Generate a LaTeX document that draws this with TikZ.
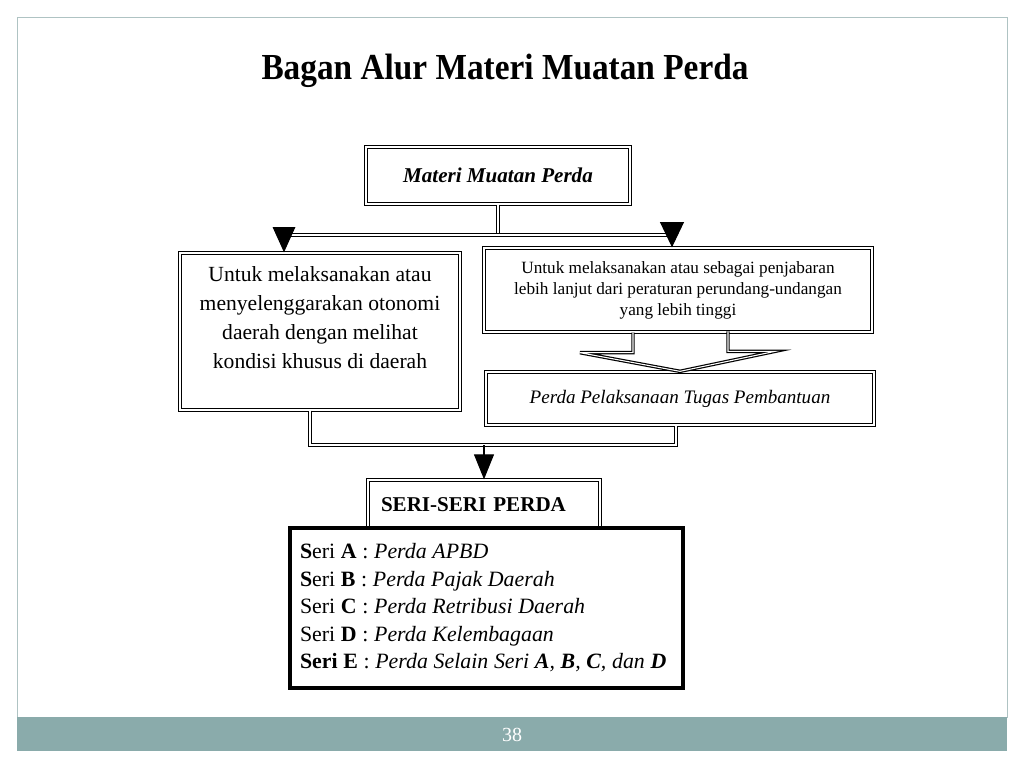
\documentclass[tikz,border=0pt]{standalone}
\usepackage{fontspec}
\usepackage{graphicx}
\setmainfont{Liberation Serif}
\usetikzlibrary{arrows.meta}
\definecolor{barcol}{RGB}{138,171,171}
\definecolor{framecol}{RGB}{175,195,195}
\newcommand\mytightspace{\spaceskip=0.26em plus 0.05em\relax}
\begin{document}
\begin{tikzpicture}[x=0.75pt,y=-0.75pt,
  box/.style={draw=black, double=white, double distance=1pt, line width=1pt, fill=white, inner sep=0pt},
  conn/.style={draw=black, double=white, double distance=0.8pt, line width=0.9pt},
  tip/.style={draw=black, line width=0.8pt},
  listbox/.style={draw=black, line width=2.3pt, fill=white, inner sep=0pt}]
\useasboundingbox (0,0) rectangle (1024,768);
% slide frame and footer
\draw[framecol, line width=0.6pt] (17,17) rectangle (1007,717);
\fill[barcol] (17,717) rectangle (1007,751);
\node[text=white, font=\fontsize{15pt}{18pt}\selectfont] (pg) at (512,735) {38};
% title
\node[font=\fontsize{25pt}{30pt}\selectfont\bfseries] (title) at (505,71) {\scalebox{1}[1.1]{Bagan Alur Materi Muatan Perda}};
% boxes
\node[box, minimum width=198pt, minimum height=42.75pt, font=\fontsize{15.8pt}{18pt}\selectfont\bfseries\itshape] (mat) at (498,175.5) {Materi Muatan Perda};
\node[box, minimum width=210pt, minimum height=117.75pt, align=center, font=\fontsize{16.2pt}{21.75pt}\selectfont] (left) at (320,331.5)
  {Untuk melaksanakan atau\\menyelenggarakan otonomi\\daerah dengan melihat\\kondisi khusus di daerah\\\mbox{}};
\node[box, minimum width=291pt, minimum height=63pt, align=center, font=\fontsize{12.9pt}{15.75pt}\selectfont] (right) at (678,290)
  {Untuk melaksanakan atau sebagai penjabaran\\lebih lanjut dari peraturan perundang-undangan\\yang lebih tinggi};
\node[box, minimum width=291pt, minimum height=39.75pt, font=\fontsize{14.3pt}{16pt}\selectfont\itshape] (pel) at (680,398.5)
  {Perda Pelaksanaan Tugas Pembantuan};
\node[box, minimum width=174pt, minimum height=37.5pt, inner xsep=9.75pt, text width=154.5pt, align=left, font=\fontsize{15.8pt}{18pt}\selectfont\bfseries] (seri) at (484,505)
  {SERI-SERI PERDA};
\node[listbox, minimum width=294.75pt, minimum height=120pt, inner xsep=7.5pt, text width=279.75pt, align=left, font=\fontsize{16.4pt}{20.6pt}\selectfont] (list) at (486.5,608)
  {\mytightspace\textbf{S}eri \textbf{A} : \textit{Perda APBD}\\
   \textbf{S}eri \textbf{B} : \textit{Perda Pajak Daerah}\\
   Seri \textbf{C} : \textit{Perda Retribusi Daerah}\\
   Seri \textbf{D} : \textit{Perda Kelembagaan}\\
   \textbf{Seri E} : \textit{Perda Selain Seri \textbf{A}, \textbf{B}, \textbf{C}, dan \textbf{D}}};
% connectors top
\coordinate (j1) at (mat.south |- 0,235);
\coordinate (aL) at (284,235);
\coordinate (aR) at (672,235);
\draw[conn] (mat.south) -- (j1);
\draw[conn] (aL) -- (aR);
\draw[tip, -{Triangle[width=17pt,length=19pt]}] (aL) -- (aL |- left.north);
\draw[tip, -{Triangle[width=18pt,length=19pt]}] (aR) -- (aR |- right.north);
% hollow arrow from right box to pel box
\draw[conn] ([xshift=-33.75pt]right.south) -- ++(0,20) -- ++(-53,0) -- (pel.north) -- ++(95,-20) -- ++(-47,0) -- ++(0,-20);
% bottom connector
\coordinate (bL) at (310,445);
\coordinate (bR) at (676,445);
\coordinate (bM) at (484,445);
\draw[conn] (bL |- left.south) -- (bL) -- (bR) -- (bR |- pel.south);
\draw[tip, -{Triangle[width=15pt,length=18.75pt]}] (bM) -- (seri.north);
\end{tikzpicture}
\end{document}
